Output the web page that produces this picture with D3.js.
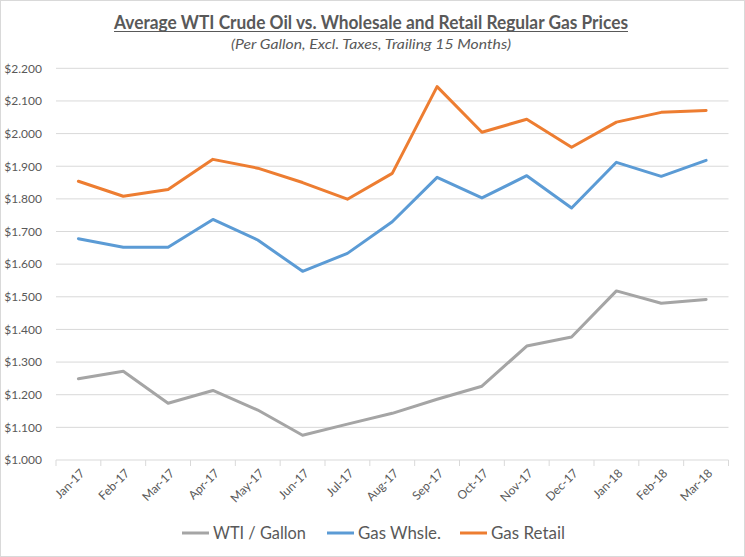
<!DOCTYPE html>
<html>
<head>
<meta charset="utf-8">
<script src="https://cdn.jsdelivr.net/npm/d3@7"></script>
<style>
  html, body { margin: 0; padding: 0; background: #fff; }
  svg { display: block; }
  text { font-family: Lato, "Open Sans", "DejaVu Sans", sans-serif; }
</style>
</head>
<body>
<svg id="chart" width="745" height="557"></svg>
<script>
const months = ["Jan-17","Feb-17","Mar-17","Apr-17","May-17","Jun-17","Jul-17","Aug-17","Sep-17","Oct-17","Nov-17","Dec-17","Jan-18","Feb-18","Mar-18"];
const wti    = [1.249,1.272,1.174,1.213,1.153,1.076,1.110,1.143,1.186,1.226,1.349,1.377,1.518,1.480,1.492];
const whsle  = [1.678,1.652,1.652,1.737,1.674,1.578,1.633,1.730,1.866,1.803,1.871,1.772,1.912,1.869,1.918];
const retail = [1.854,1.808,1.829,1.921,1.894,1.850,1.799,1.878,2.144,2.004,2.044,1.958,2.035,2.065,2.071];
const yTicks = [1.0,1.1,1.2,1.3,1.4,1.5,1.6,1.7,1.8,1.9,2.0,2.1,2.2];
const seriesNames = ["WTI / Gallon","Gas Whsle.","Gas Retail"];
const colors = ["#A5A5A5","#5B9BD5","#ED7D31"];

(function(){
const svg = d3.select("#chart");
const W = 745, H = 557;
const pLeft = 56, pRight = 728.5, pTop = 68.3, pBottom = 460;

svg.append("rect").attr("x",0.5).attr("y",0.5).attr("width",W-1).attr("height",H-1)
  .attr("fill","#fff").attr("stroke","#D9D9D9");

const x = d3.scaleBand().domain(months).range([pLeft,pRight]).padding(0);
const y = d3.scaleLinear().domain([1.0,2.2]).range([pBottom,pTop]);

// gridlines
svg.append("g").selectAll("line").data(yTicks.slice(1)).join("line")
  .attr("x1",pLeft).attr("x2",pRight)
  .attr("y1",d=>y(d)).attr("y2",d=>y(d))
  .attr("stroke","#D9D9D9").attr("stroke-width",1);

// y axis labels
const yAxis = d3.axisLeft(y).tickValues(yTicks).tickSize(0).tickPadding(14)
  .tickFormat(d=>"$"+d3.format(".3f")(d));
const gy = svg.append("g").attr("transform",`translate(${pLeft},0)`).call(yAxis);
gy.select(".domain").remove();
gy.selectAll("text").attr("fill","#595959").attr("font-size","12px")
  .attr("font-family","Lato, 'Open Sans', sans-serif");

// x axis
const gx = svg.append("g").attr("transform",`translate(0,${pBottom})`);
gx.append("line").attr("x1",pLeft).attr("x2",pRight).attr("stroke","#D9D9D9");
const tickPos = months.map(m=>x(m)).concat([pRight]);
gx.selectAll("line.tk").data(tickPos).join("line").attr("class","tk")
  .attr("x1",d=>d).attr("x2",d=>d).attr("y1",0).attr("y2",6)
  .attr("stroke","#D9D9D9");
gx.selectAll("text").data(months).join("text")
  .attr("transform",d=>`translate(${x(d)+x.bandwidth()/2+4},${11}) rotate(-45)`)
  .attr("text-anchor","end")
  .attr("dy","0.35em")
  .attr("fill","#595959").attr("font-size","12px")
  .text(d=>d);

// lines
const data = [wti, whsle, retail];
const line = d3.line().x((d,i)=>x(months[i])+x.bandwidth()/2).y(d=>y(d));
svg.append("g").selectAll("path").data(data).join("path")
  .attr("d",line).attr("fill","none")
  .attr("stroke",(d,i)=>colors[i]).attr("stroke-width",3)
  .attr("stroke-linejoin","round").attr("stroke-linecap","round");

// title
svg.append("text").attr("x",371).attr("y",28.5).attr("text-anchor","middle")
  .attr("font-size","19px").attr("font-weight","bold").attr("fill","#595959")
  .attr("textLength",514).attr("lengthAdjust","spacingAndGlyphs")
  .text("Average WTI Crude Oil vs. Wholesale and Retail Regular Gas Prices");
svg.append("line").attr("x1",114).attr("x2",628).attr("y1",31.5).attr("y2",31.5)
  .attr("stroke","#595959").attr("stroke-width",1.2);
svg.append("text").attr("x",371).attr("y",49).attr("text-anchor","middle")
  .attr("font-size","14px").attr("font-style","italic").attr("fill","#595959")
  .attr("textLength",280).attr("lengthAdjust","spacingAndGlyphs")
  .text("(Per Gallon, Excl. Taxes, Trailing 15 Months)");

// legend
const legX = [182, 327, 460];
const legW = [93, 83, 74];
const lg = svg.append("g");
seriesNames.forEach((n,i)=>{
  lg.append("line").attr("x1",legX[i]).attr("x2",legX[i]+27).attr("y1",533).attr("y2",533)
    .attr("stroke",colors[i]).attr("stroke-width",3);
  lg.append("text").attr("x",legX[i]+31).attr("y",533).attr("dy","0.35em")
    .attr("font-size","17px").attr("fill","#595959")
    .attr("textLength",legW[i]).attr("lengthAdjust","spacingAndGlyphs")
    .text(n);
});
})();
</script>
</body>
</html>
